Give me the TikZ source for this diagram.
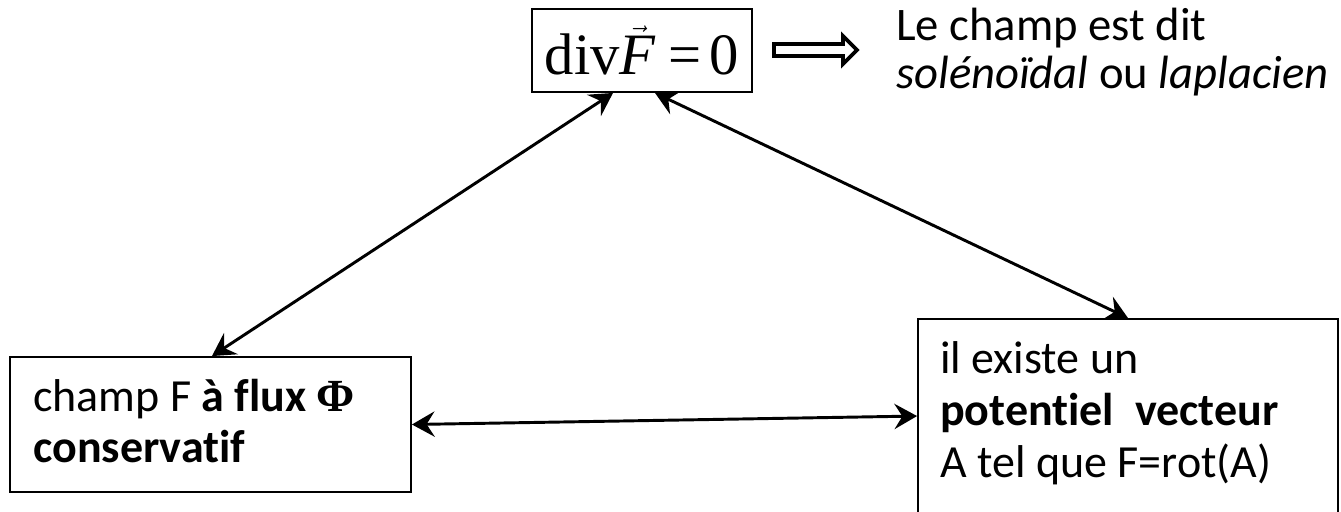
\documentclass[tikz,border=0pt]{standalone}
\usepackage{fontspec}
\setmainfont[Ligatures=NoCommon]{Carlito}
\newfontfamily\timesfont{Liberation Serif}
\usetikzlibrary{arrows.meta}
\begin{document}
\begin{tikzpicture}[x=0.75pt,y=-0.75pt,
  box/.style={draw, line width=1.4pt, inner sep=0pt},
  link/.style={{Stealth[length=17pt,width=19pt,inset=6pt]}-{Stealth[length=17pt,width=19pt,inset=6pt]}, line width=2.2pt},
  txt/.style={anchor=base west, inner sep=0pt, font=\fontsize{34.5}{40}\selectfont},
  toptxt/.style={anchor=base west, inner sep=0pt, font=\fontsize{35}{40}\selectfont}]
\useasboundingbox (0,0) rectangle (1341,511);
\fill[white] (0,0) rectangle (1341,511);

% boxes
\node[box, minimum width=165pt, minimum height=62.25pt] (top) at (642,50.5)
  {\fontsize{44}{50}\selectfont\timesfont div$\vec{\hbox{\itshape F}}$\hspace{10pt}=\hspace{6pt}0};
\node[box, minimum width=300.75pt, minimum height=101.25pt] (lb) at (210.5,424.5) {};
\node[box, minimum width=315pt, minimum height=210.75pt] (rb) at (1128,459.5) {};

% texts
\node[txt] (l1) at (33,411) {champ F \textbf{à flux {\timesfont Φ}}};
\node[txt] (l2) at (33,462) {\textbf{conservatif}};
\node[txt] (r1) at (940,373) {il existe un};
\node[txt] (r2) at (940,425) {\textbf{potentiel\ \ vecteur}};
\node[txt] (r3) at (940,477) {A tel que F=rot(A)};
\node[toptxt] (t1) at (896,40) {Le champ est dit};
\node[toptxt] (t2) at (896,88) {\textit{solénoïdal} ou \textit{laplacien}};

% implies arrow
\draw[line width=2.8pt, fill=white, line join=miter]
  (774,44) -- (843,44) -- (843,36) -- (857,50) -- (843,64) -- (843,56) -- (774,56) -- cycle;

% connectors
\draw[link] ([xshift=-21.75pt]top.south) -- ([xshift=1.1pt]lb.north);
\draw[link] ([xshift=9.75pt]top.south) -- (rb.north);
\draw[link] (lb.east) -- ([yshift=32.6pt]rb.west);
\end{tikzpicture}
\end{document}
